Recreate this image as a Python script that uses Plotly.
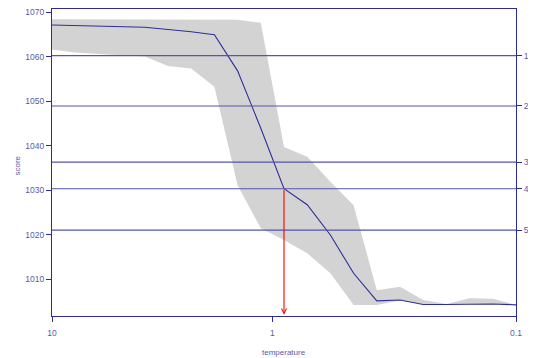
import plotly.graph_objects as go

# ---- data ----
step = list(range(21))  # annealing steps, equally spaced along the temperature axis
score_mean = [1067.1, 1067.0, 1066.9, 1066.8, 1066.6, 1066.1, 1065.6, 1064.9, 1056.8, 1043.9,
              1030.3, 1026.7, 1019.9, 1011.3, 1005.1, 1005.3, 1004.3, 1004.3, 1004.4, 1004.4, 1004.2]
score_upper = [1068.4, 1068.4, 1068.4, 1068.4, 1068.4, 1068.4, 1068.4, 1068.4, 1068.3, 1067.6,
               1039.7, 1037.5, 1031.9, 1026.6, 1007.5, 1008.3, 1005.3, 1004.4, 1005.7, 1005.6, 1004.2]
score_lower = [1061.6, 1060.9, 1060.6, 1060.3, 1060.0, 1057.9, 1057.3, 1053.2, 1031.1, 1021.4,
               1018.8, 1015.8, 1011.3, 1004.2, 1004.2, 1005.2, 1004.3, 1004.3, 1004.4, 1004.4, 1004.2]
level_scores = [1060.2, 1048.9, 1036.3, 1030.3, 1021.0]
level_labels = ["1", "2", "3", "4", "5"]
temp_tick_labels = ["10", "1", "0.1"]
temp_tick_steps = [0, 9.5, 20]
chosen_step = 10
score_ticks = [1010, 1020, 1030, 1040, 1050, 1060, 1070]

AX = "#2b2b9c"
TXT = "#5a5aa8"
HL = "#5555aa"
FONT = "Liberation Sans, Arial, sans-serif"

fig = go.Figure()
fig.add_trace(go.Scatter(x=step, y=score_upper, mode="lines", line=dict(width=0),
                         hoverinfo="skip", showlegend=False))
fig.add_trace(go.Scatter(x=step, y=score_lower, mode="lines", line=dict(width=0),
                         fill="tonexty", fillcolor="#d3d3d3", hoverinfo="skip", showlegend=False))
fig.add_trace(go.Scatter(x=step, y=score_mean, mode="lines",
                         line=dict(color="#2e2e9a", width=1.1), showlegend=False))
# invisible trace to anchor the right axis
fig.add_trace(go.Scatter(x=[step[0]], y=[level_scores[0]], yaxis="y2", mode="markers",
                         marker=dict(opacity=0), hoverinfo="skip", showlegend=False))

for lv in level_scores:
    fig.add_shape(type="line", xref="paper", x0=0, x1=1, yref="y", y0=lv, y1=lv,
                  line=dict(color=HL, width=1.2), layer="above")

chosen_score = score_mean[step.index(chosen_step)]
yr = [1001.7, 1070.7]
fig.add_annotation(x=chosen_step, y=yr[0] + 0.3, ax=chosen_step, ay=chosen_score,
                   xref="x", yref="y", axref="x", ayref="y", text="", showarrow=True,
                   arrowhead=5, arrowsize=0.9, arrowwidth=1.1, arrowcolor="red", standoff=0)

# axis titles
fig.add_annotation(text="score", xref="paper", yref="paper", x=-34 / 464, y=0.49,
                   textangle=-90, showarrow=False, font=dict(size=8, color=TXT),
                   xanchor="center", yanchor="middle")
fig.add_annotation(text="temperature", xref="paper", yref="paper", x=0.5, y=-36 / 307,
                   showarrow=False, font=dict(size=8, color=TXT),
                   xanchor="center", yanchor="middle")

fig.update_layout(
    width=528, height=350,
    margin=dict(l=44, r=20, t=1, b=42),
    plot_bgcolor="white", paper_bgcolor="white",
    font=dict(family=FONT, size=8, color=TXT),
    xaxis=dict(range=[0, 20], tickvals=temp_tick_steps, ticktext=temp_tick_labels,
               showgrid=False, zeroline=False, showline=True, linecolor=AX, linewidth=1.3,
               mirror=True, ticks="outside", ticklen=5, tickcolor=AX, tickwidth=1.3,
               tickfont=dict(size=8.5, color=TXT), automargin=False, ticklabelstandoff=4,
               ticklabeloverflow="allow"),
    yaxis=dict(range=yr, tickvals=score_ticks, showgrid=False, zeroline=False,
               showline=True, linecolor=AX, linewidth=1.3, mirror=True,
               ticks="outside", ticklen=5, tickcolor=AX, tickwidth=1.3,
               tickfont=dict(size=8.5, color=TXT), automargin=False,
               ticklabeloverflow="allow"),
    yaxis2=dict(range=yr, overlaying="y", side="right", tickvals=level_scores,
                ticktext=level_labels, showgrid=False, zeroline=False,
                ticks="outside", ticklen=5, tickcolor=AX, tickwidth=1.3,
                tickfont=dict(size=8.5, color=TXT), automargin=False,
                ticklabeloverflow="allow"),
)

fig.write_html("out.html")
